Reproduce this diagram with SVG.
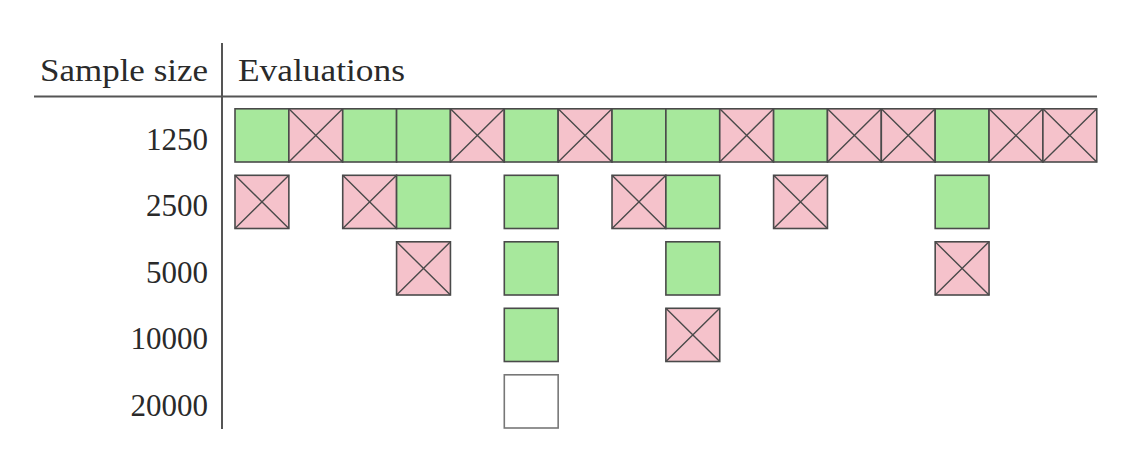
<svg xmlns="http://www.w3.org/2000/svg" width="1135" height="473" viewBox="0 0 1135 473">
<style>
text{font-family:"Liberation Serif","DejaVu Serif",serif;font-size:31px;fill:#2a2a2a}
.lbl{text-anchor:end}
.rule{stroke:#555;stroke-width:2;fill:none}
.g{fill:#a7e89c;stroke:#4a4a4a;stroke-width:1.6}
.r{fill:#f5c2cb;stroke:#4a4a4a;stroke-width:1.6}
.w{fill:#fff;stroke:#777;stroke-width:1.6}
.x{stroke:#4a4a4a;stroke-width:1.4}
</style>
<defs>
<g id="pass"><rect class="g" x="0" y="0" width="53.86" height="53.2"/></g>
<g id="fail"><rect class="r" x="0" y="0" width="53.86" height="53.2"/><path class="x" d="M0 0L53.86 53.2M53.86 0L0 53.2"/></g>
<g id="open"><rect class="w" x="0" y="0" width="53.86" height="53.2"/></g>
</defs>
<rect width="1135" height="473" fill="#fff"/>
<g id="rules">
<line class="rule" x1="222" y1="43" x2="222" y2="429"/>
<line class="rule" x1="34" y1="96.5" x2="1097" y2="96.5"/>
</g>
<g id="header">
<text x="40" y="81" textLength="168" lengthAdjust="spacingAndGlyphs">Sample size</text>
<text x="238" y="81" textLength="167" lengthAdjust="spacingAndGlyphs">Evaluations</text>
</g>
<g id="labels">
<text class="lbl" x="208" y="149.5">1250</text>
<text class="lbl" x="208" y="216">2500</text>
<text class="lbl" x="208" y="282.5">5000</text>
<text class="lbl" x="208" y="349">10000</text>
<text class="lbl" x="208" y="415.5">20000</text>
</g>
<g id="row1250">
<use href="#pass" x="235" y="108.8"/>
<use href="#fail" x="288.86" y="108.8"/>
<use href="#pass" x="342.72" y="108.8"/>
<use href="#pass" x="396.58" y="108.8"/>
<use href="#fail" x="450.44" y="108.8"/>
<use href="#pass" x="504.3" y="108.8"/>
<use href="#fail" x="558.16" y="108.8"/>
<use href="#pass" x="612.02" y="108.8"/>
<use href="#pass" x="665.88" y="108.8"/>
<use href="#fail" x="719.74" y="108.8"/>
<use href="#pass" x="773.6" y="108.8"/>
<use href="#fail" x="827.46" y="108.8"/>
<use href="#fail" x="881.32" y="108.8"/>
<use href="#pass" x="935.18" y="108.8"/>
<use href="#fail" x="989.04" y="108.8"/>
<use href="#fail" x="1042.9" y="108.8"/>
</g>
<g id="row2500">
<use href="#fail" x="235" y="175.3"/>
<use href="#fail" x="342.72" y="175.3"/>
<use href="#pass" x="396.58" y="175.3"/>
<use href="#pass" x="504.3" y="175.3"/>
<use href="#fail" x="612.02" y="175.3"/>
<use href="#pass" x="665.88" y="175.3"/>
<use href="#fail" x="773.6" y="175.3"/>
<use href="#pass" x="935.18" y="175.3"/>
</g>
<g id="row5000">
<use href="#fail" x="396.58" y="241.8"/>
<use href="#pass" x="504.3" y="241.8"/>
<use href="#pass" x="665.88" y="241.8"/>
<use href="#fail" x="935.18" y="241.8"/>
</g>
<g id="row10000">
<use href="#pass" x="504.3" y="308.3"/>
<use href="#fail" x="665.88" y="308.3"/>
</g>
<g id="row20000">
<use href="#open" x="504.3" y="374.8"/>
</g>
</svg>
